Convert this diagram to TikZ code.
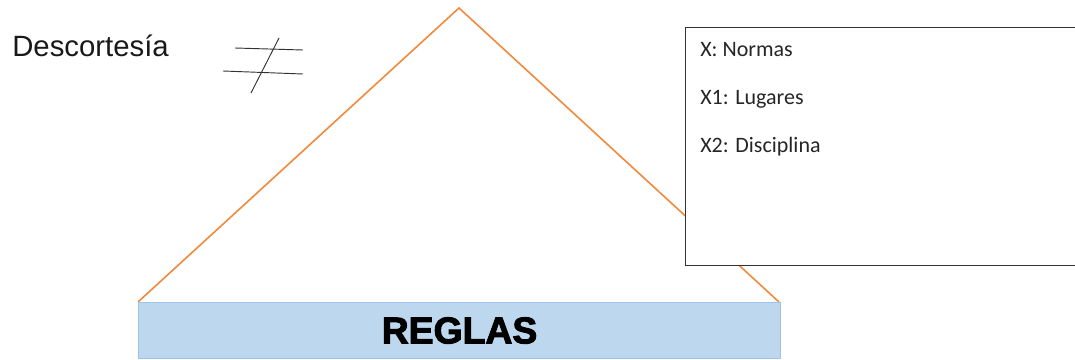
\documentclass[tikz,border=0pt]{standalone}
\usepackage{fontspec}
\setmainfont{Liberation Sans}
\newfontfamily\boxfont{Carlito}
\definecolor{triline}{HTML}{F08A3C}
\definecolor{barfill}{HTML}{BDD7EE}
\definecolor{barline}{HTML}{9DC3E6}
\begin{document}
\begin{tikzpicture}[x=0.75pt,y=-0.75pt,
  sketch/.style={draw=black!80,line width=0.7pt},
  item/.style={anchor=base west,font=\boxfont\fontsize{16.5}{18}\selectfont,text=black!85,inner sep=0pt}]
\useasboundingbox (0,0) rectangle (1075,360);
% triangle
\coordinate (apex) at (459,8);
\coordinate (bl) at (138,302);
\coordinate (br) at (779,302);
\draw[triline,line width=1.2pt] (bl) -- (apex) -- (br);
% bar
\node[draw=barline,fill=barfill,line width=0.8pt,minimum width=642*0.75pt,minimum height=56*0.75pt,inner sep=0pt,anchor=north west] (bar) at (138,302) {};
\node[font=\fontsize{28}{30}\selectfont\bfseries] (reglas) at (bar.center) {\addfontfeature{FakeBold=2.5}REGLAS};
% box
\node[draw=black!80,fill=white,line width=1pt,minimum width=400*0.75pt,minimum height=238*0.75pt,inner sep=0pt,anchor=north west] (box) at (685,27) {};
\node[item] (n1) at (700,57) {X: Normas};
\node[item] (n2) at (700,105) {X1: Lugares};
\node[item] (n3) at (700,152) {X2: Disciplina};
% Descortesia
\node[anchor=base west,inner sep=0pt,font=\fontsize{22}{24}\selectfont,text=black!90] (desc) at (12,57) {Descortesía};
% not equal sign
\coordinate (a1) at (235,48); \coordinate (a2) at (303,50);
\coordinate (b1) at (223,71); \coordinate (b2) at (303,74);
\coordinate (c1) at (279,38); \coordinate (c2) at (251,93);
\draw[sketch] (a1) -- (a2);
\draw[sketch] (b1) -- (b2);
\draw[sketch] (c1) -- (c2);
\end{tikzpicture}
\end{document}
